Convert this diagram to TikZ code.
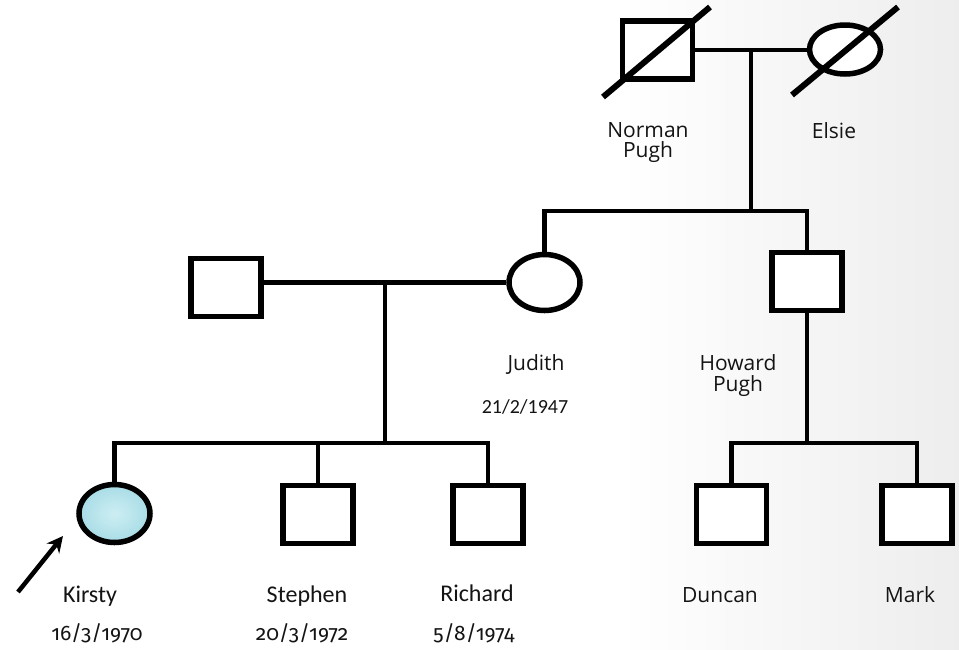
\documentclass[tikz,border=0pt]{standalone}
\usepackage{fontspec}
\setmainfont{Open Sans}
\newfontfamily\datefont[Numbers={OldStyle,Proportional}]{Fira Sans}
\newfontfamily\namefont{Carlito}
\usetikzlibrary{shapes.geometric,arrows.meta,calc}

\definecolor{probandblue}{RGB}{168,220,230}
\definecolor{probandlight}{RGB}{205,238,243}
\definecolor{inkgray}{RGB}{20,20,20}

\begin{document}
\begin{tikzpicture}[x=1pt,y=-1pt,
  male/.style={draw, line width=5.5pt, fill=white, rectangle,
    minimum width=70pt, minimum height=58pt, inner sep=0pt},
  female/.style={draw, line width=5.5pt, fill=white, ellipse,
    minimum width=71pt, minimum height=56pt, inner sep=0pt},
  link/.style={line width=4.5pt},
  deceased/.style={line width=6pt},
  pointer/.style={line width=4.5pt, -{Stealth[length=16pt,width=16pt]}},
  lbl/.style={font=\fontsize{21}{20.5}\selectfont, inner sep=0pt,
    align=center, text=inkgray},
  kname/.style={font=\namefont\fontsize{24}{26}\selectfont, inner sep=0pt,
    anchor=base, text=inkgray},
  kdate/.style={font=\datefont\fontsize{21}{24}\selectfont, inner sep=0pt,
    anchor=base, text=inkgray},
]
% page and background
\useasboundingbox (0,0) rectangle (959,649);
\fill[white] (0,0) rectangle (959,649);
\shade[left color=white, right color=black!7] (620,0) rectangle (959,649);

% generation I
\node[male]   (norman) at (657.5,50) {};
\node[female, minimum height=49pt] (elsie) at (845,49.5) {};
\draw[deceased] ($(norman.center)+(-54.5,47)$) -- ($(norman.center)+(52.5,-43)$);
\draw[deceased] ($(elsie.center)+(-53,45.5)$) -- ($(elsie.center)+(53,-42.5)$);

% generation II
\node[male]   (spouse) at (226,287.5)  {};
\node[female] (judith) at (544.5,282.5) {};
\node[male]   (howard) at (807,281.5)  {};

% generation III
\node[female, minimum height=58pt, fill=probandblue,
      inner color=probandlight, outer color=probandblue]
              (kirsty)  at (114.5,513.5) {};
\node[male]   (stephen) at (318,514.5)   {};
\node[male]   (richard) at (488,514.5)   {};
\node[male]   (duncan)  at (731.5,514.5) {};
\node[male]   (mark)    at (917,514.5)   {};

% junctions
\coordinate (m1) at ($(norman.east)!0.5!(norman.east -| elsie.west)$);
\coordinate (s1) at (m1 |- 0,211);
\coordinate (m2) at ($(spouse.east |- judith.west)!0.5!(judith.west)$);
\coordinate (s2) at (m2 |- 0,443);
\coordinate (s3) at (howard.south |- 0,443);

% connectors
\draw[link] (norman.east) -- (norman.east -| elsie.west);
\draw[link] (m1) -- (s1);
\draw[link] (judith.north) |- (s1) -| (howard.north);
\draw[link] (spouse.east |- judith.west) -- (judith.west);
\draw[link] (m2) -- (s2);
\draw[link] (kirsty.north) |- (s2) -| (richard.north);
\draw[link] (stephen.north) -- (stephen.north |- s2);
\draw[link] (howard.south) -- (s3);
\draw[link] (duncan.north) |- (s3) -| (mark.north);

% proband arrow
\coordinate (ptail) at (18,592);
\coordinate (phead) at (63,536);
\draw[pointer] (ptail) -- (phead);

% labels
\node[lbl] (normanlbl) at (648,142.5) {Norman\\Pugh};
\node[lbl, anchor=base] (elsielbl) at (834,138) {Elsie};
\node[lbl, anchor=base] (judithlbl) at (536,370) {Judith};
\node[kname, font=\namefont\fontsize{20}{22}\selectfont] (judithdate) at (525,413) {21/2/1947};
\node[lbl] (howardlbl) at (738,375.5) {Howard\\Pugh};

\node[kname] (kirstylbl)  at (90,602)  {Kirsty};
\node[kdate] (kirstydate) at (97,640)  {16/3/1970};
\node[kname] (stephenlbl) at (307,602) {Stephen};
\node[kdate] (stephendate) at (302,640) {20/3/1972};
\node[kname] (richardlbl) at (477,601) {Richard};
\node[kdate] (richarddate) at (474,640) {5/8/1974};
\node[lbl, anchor=base] (duncanlbl) at (720,602) {Duncan};
\node[lbl, anchor=base] (marklbl)   at (910,602) {Mark};
\end{tikzpicture}
\end{document}
